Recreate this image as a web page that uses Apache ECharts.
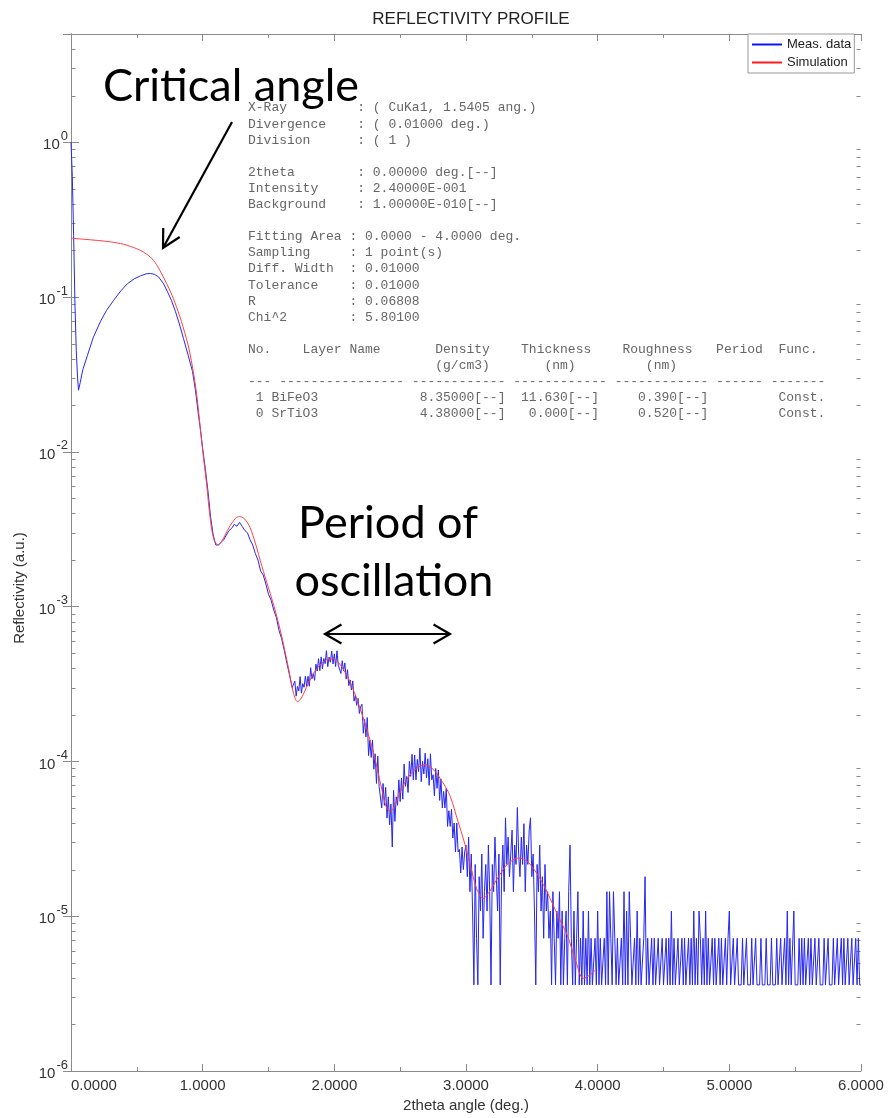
<!DOCTYPE html>
<html>
<head>
<meta charset="utf-8">
<script src="https://cdn.jsdelivr.net/npm/echarts@6/dist/echarts.min.js"></script>
<style>
  html, body { margin: 0; padding: 0; background: #fff; }
  #chart { width: 888px; height: 1118px; }
</style>
</head>
<body>
<div id="chart"></div>
<script>
// ---- Measured reflectivity: low-angle part (2theta in deg, intensity) ----
const measLowX = [0.00, 0.01, 0.02, 0.03, 0.04, 0.05, 0.057, 0.07, 0.09, 0.125, 0.17, 0.224, 0.27, 0.323, 0.38, 0.429, 0.48, 0.528, 0.57, 0.604, 0.635, 0.664, 0.70, 0.733, 0.763, 0.793, 0.823, 0.854, 0.89, 0.923, 0.945, 0.968, 0.985];
const measLowY = [1.0, 0.6, 0.25, 0.09, 0.045, 0.03, 0.025, 0.028, 0.034, 0.042, 0.055, 0.0696, 0.082, 0.095, 0.11, 0.122, 0.131, 0.137, 0.141, 0.142, 0.14, 0.135, 0.123, 0.108, 0.095, 0.0807, 0.067, 0.054, 0.042, 0.033, 0.025, 0.0173, 0.0135];

// ---- Measured: 1.00 .. 1.68 deg, step 0.02 ----
const measMidStart = 1.0;
const measMidStep = 0.02;
const measMidY = [
  0.0105, 0.0078, 0.0056, 0.0038, 0.0029, 0.0025, 0.0025, 0.0026, 0.0027, 0.0029,
  0.0031, 0.0032, 0.0034, 0.0033, 0.0035, 0.0033, 0.0031, 0.0030, 0.0027, 0.0025,
  0.0022, 0.0020, 0.0017, 0.0016, 0.0014, 0.0012, 0.0011, 0.00095, 0.00085, 0.00070,
  0.00062, 0.00052, 0.00043, 0.00036, 0.00030
];

// ---- Measured: 1.70 .. 6.00 deg, step 0.01 (counting-statistics limited) ----
const measHiStart = 1.70;
const measHiStep = 0.01;
const measHiY = [
  // 1.70 - 2.20
  3.30e-4, 2.64e-4, 3.05e-4, 2.85e-4, 3.53e-4, 2.76e-4, 3.18e-4, 3.01e-4, 3.55e-4, 3.05e-4,
  3.55e-4, 3.06e-4, 4.03e-4, 3.42e-4, 3.70e-4, 3.34e-4, 4.25e-4, 3.84e-4, 4.61e-4, 3.86e-4,
  4.73e-4, 3.96e-4, 4.62e-4, 4.28e-4, 5.19e-4, 4.09e-4, 4.72e-4, 4.37e-4, 5.16e-4, 4.26e-4,
  4.95e-4, 4.10e-4, 5.18e-4, 4.18e-4, 4.30e-4, 3.70e-4, 4.47e-4, 3.84e-4, 4.33e-4, 3.40e-4,
  3.91e-4, 3.09e-4, 3.36e-4, 2.90e-4, 3.31e-4, 2.45e-4, 2.67e-4, 2.30e-4, 2.55e-4, 2.04e-4,
  2.26e-4,
  // 2.21 - 2.99
  2.34e-4, 1.52e-4, 1.87e-4, 1.44e-4, 1.92e-4, 1.09e-4, 1.37e-4, 1.06e-4, 1.37e-4, 8.9e-5,
  1.12e-4, 7.2e-5, 1.08e-4, 6.9e-5, 7.1e-5, 5.0e-5, 7.2e-5, 5.2e-5, 6.8e-5, 4.3e-5,
  5.9e-5, 3.9e-5, 5.3e-5, 2.8e-5, 6.5e-5, 4.1e-5, 5.9e-5, 5.2e-5, 7.6e-5, 5.5e-5,
  7.8e-5, 5.7e-5, 9.6e-5, 6.9e-5, 8.0e-5, 6.3e-5, 1.0e-4, 8.0e-5, 1.11e-4, 7.6e-5,
  1.10e-4, 7.6e-5, 1.03e-4, 8.6e-5, 1.22e-4, 7.4e-5, 1.0e-4, 8.3e-5, 1.13e-4, 7.8e-5,
  1.04e-4, 7.0e-5, 1.12e-4, 7.6e-5, 8.2e-5, 6.0e-5, 9.0e-5, 6.7e-5, 8.8e-5, 5.6e-5,
  7.7e-5, 5.0e-5, 6.4e-5, 5.0e-5, 6.7e-5, 3.8e-5, 4.8e-5, 3.8e-5, 4.9e-5, 3.2e-5,
  4.0e-5, 2.6e-5, 4.0e-5, 2.6e-5, 2.7e-5, 1.9e-5, 2.8e-5, 2.0e-5, 2.6e-5,
  // 3.00 - 3.63
  2.88e-5, 1.8e-5, 3.24e-5, 1.44e-5, 2.52e-5, 1.08e-5, 3.6e-6, 2.16e-5, 7.2e-6, 3.6e-6,
  1.8e-5, 1.08e-5, 2.52e-5, 7.2e-6, 1.44e-5, 2.16e-5, 1.08e-5, 2.88e-5, 1.44e-5, 3.6e-6,
  2.16e-5, 1.44e-5, 3.24e-5, 1.8e-5, 1.08e-5, 2.52e-5, 3.6e-6, 1.8e-5, 2.88e-5, 1.44e-5,
  4.32e-5, 2.16e-5, 3.24e-5, 1.8e-5, 2.52e-5, 3.6e-5, 1.44e-5, 2.88e-5, 2.16e-5, 5.04e-5,
  2.52e-5, 1.8e-5, 3.24e-5, 2.16e-5, 3.96e-5, 1.44e-5, 2.88e-5, 2.16e-5, 3.6e-5, 4.32e-5,
  1.8e-5, 2.52e-5, 1.08e-5, 3.6e-6, 2.16e-5, 1.44e-5, 2.88e-5, 1.08e-5, 1.8e-5, 7.2e-6,
  2.16e-5, 1.08e-5, 1.44e-5, 7.2e-6,
  // 3.64 - 4.04
  1.08e-5, 3.6e-6, 1.44e-5, 7.2e-6, 3.6e-6, 1.08e-5, 7.2e-6, 1.44e-5, 3.6e-6, 1.08e-5,
  3.6e-6, 7.2e-6, 1.08e-5, 3.6e-6, 1.44e-5, 2.88e-5, 7.2e-6, 3.6e-6, 1.08e-5, 3.6e-6,
  7.2e-6, 1.44e-5, 3.6e-6, 7.2e-6, 3.6e-6, 1.08e-5, 3.6e-6, 7.2e-6, 3.6e-6, 1.08e-5,
  3.6e-6, 7.2e-6, 3.6e-6, 3.6e-6, 7.2e-6, 3.6e-6, 1.08e-5, 3.6e-6, 7.2e-6, 3.6e-6,
  3.6e-6,
  // 4.05 - 4.40
  7.2e-6, 3.6e-6, 1.44e-5, 3.6e-6, 1.44e-5, 7.2e-6, 3.6e-6, 1.44e-5, 7.2e-6, 3.6e-6,
  7.2e-6, 3.6e-6, 3.6e-6, 7.2e-6, 3.6e-6, 1.44e-5, 3.6e-6, 1.08e-5, 3.6e-6, 1.44e-5,
  7.2e-6, 3.6e-6, 3.6e-6, 7.2e-6, 3.6e-6, 1.08e-5, 3.6e-6, 7.2e-6, 3.6e-6, 3.6e-6,
  7.2e-6, 1.8e-5, 3.6e-6, 7.2e-6, 3.6e-6, 3.6e-6,
  // 4.41 - 6.00
  7.2e-6, 3.6e-6, 7.2e-6, 3.6e-6, 3.6e-6, 7.2e-6, 3.6e-6, 3.6e-6, 7.2e-6, 3.6e-6,
  3.6e-6, 7.2e-6, 3.6e-6, 7.2e-6, 3.6e-6, 1.08e-5, 3.6e-6, 7.2e-6, 3.6e-6, 3.6e-6,
  7.2e-6, 3.6e-6, 3.6e-6, 7.2e-6, 3.6e-6, 7.2e-6, 3.6e-6, 3.6e-6, 7.2e-6, 3.6e-6,
  7.2e-6, 3.6e-6, 1.08e-5, 3.6e-6, 7.2e-6, 3.6e-6, 1.08e-5, 7.2e-6, 3.6e-6, 7.2e-6,
  3.6e-6, 1.08e-5, 3.6e-6, 7.2e-6, 3.6e-6, 3.6e-6, 7.2e-6, 3.6e-6, 7.2e-6, 3.6e-6,
  3.6e-6, 7.2e-6, 3.6e-6, 7.2e-6, 3.6e-6, 3.6e-6, 7.2e-6, 3.6e-6, 7.2e-6, 1.08e-5,
  3.6e-6, 3.6e-6, 7.2e-6, 3.6e-6, 3.6e-6, 7.2e-6, 3.6e-6, 3.6e-6, 3.6e-6, 7.2e-6,
  3.6e-6, 3.6e-6, 7.2e-6, 3.6e-6, 3.6e-6, 3.6e-6, 7.2e-6, 3.6e-6, 3.6e-6, 7.2e-6,
  3.6e-6, 3.6e-6, 3.6e-6, 7.2e-6, 3.6e-6, 3.6e-6, 3.6e-6, 7.2e-6, 3.6e-6, 3.6e-6,
  3.6e-6, 7.2e-6, 3.6e-6, 3.6e-6, 3.6e-6, 7.2e-6, 3.6e-6, 3.6e-6, 7.2e-6, 3.6e-6,
  3.6e-6, 7.2e-6, 3.6e-6, 1.08e-5, 3.6e-6, 7.2e-6, 3.6e-6, 3.6e-6, 1.08e-5, 3.6e-6,
  3.6e-6, 3.6e-6, 7.2e-6, 3.6e-6, 7.2e-6, 3.6e-6, 7.2e-6, 3.6e-6, 3.6e-6, 7.2e-6,
  3.6e-6, 7.2e-6, 3.6e-6, 3.6e-6, 7.2e-6, 3.6e-6, 3.6e-6, 7.2e-6, 3.6e-6, 3.6e-6,
  3.6e-6, 7.2e-6, 3.6e-6, 3.6e-6, 7.2e-6, 3.6e-6, 3.6e-6, 3.6e-6, 7.2e-6, 3.6e-6,
  3.6e-6, 7.2e-6, 3.6e-6, 3.6e-6, 7.2e-6, 3.6e-6, 7.2e-6, 3.6e-6, 3.6e-6, 7.2e-6,
  3.6e-6, 3.6e-6, 7.2e-6, 3.6e-6, 3.6e-6, 7.2e-6, 3.6e-6, 7.2e-6, 3.6e-6, 3.6e-6
];

// ---- Simulated curve (BiFeO3 11.63 nm on SrTiO3), fitting area 0 .. 4 deg ----
const simX = [0.00, 0.10, 0.20, 0.30, 0.40, 0.50, 0.55, 0.60, 0.65, 0.70, 0.75, 0.80, 0.85, 0.90, 0.95, 1.00, 1.03, 1.06, 1.09, 1.12, 1.15, 1.20, 1.25, 1.28, 1.32, 1.36, 1.40, 1.45, 1.50, 1.55, 1.60, 1.65, 1.69, 1.72, 1.75, 1.80, 1.85, 1.90, 1.95, 1.99, 2.04, 2.10, 2.15, 2.20, 2.25, 2.30, 2.35, 2.40, 2.43, 2.47, 2.52, 2.58, 2.64, 2.69, 2.75, 2.82, 2.88, 2.94, 2.98, 3.03, 3.08, 3.13, 3.18, 3.25, 3.32, 3.40, 3.47, 3.55, 3.62, 3.70, 3.77, 3.83, 3.89, 3.94, 3.98];
const simY = [0.240, 0.236, 0.232, 0.227, 0.219, 0.205, 0.195, 0.182, 0.162, 0.135, 0.111, 0.087, 0.0646, 0.0447, 0.0251, 0.0102, 0.00617, 0.00355, 0.00263, 0.00251, 0.00269, 0.00324, 0.00372, 0.00382, 0.00367, 0.00324, 0.00257, 0.00182, 0.00132, 9.5e-4, 6.46e-4, 4.07e-4, 2.75e-4, 2.43e-4, 2.57e-4, 3.16e-4, 3.8e-4, 4.27e-4, 4.57e-4, 4.59e-4, 4.27e-4, 3.52e-4, 2.82e-4, 2.14e-4, 1.58e-4, 1.12e-4, 7.24e-5, 4.9e-5, 4.79e-5, 5.5e-5, 6.92e-5, 8.3e-5, 9.2e-5, 9.55e-5, 8.9e-5, 7.4e-5, 5.96e-5, 4.07e-5, 3.16e-5, 2.19e-5, 1.51e-5, 1.3e-5, 1.45e-5, 1.82e-5, 2.19e-5, 2.38e-5, 2.24e-5, 1.82e-5, 1.41e-5, 1.0e-5, 7.5e-6, 5.25e-6, 3.96e-6, 4.17e-6, 4.47e-6];

// ---- Axis settings ----
const xTickDigits = 4;
const yMin = 1e-6;
const yMax = 5;
const legendNames = ['Meas. data', 'Simulation'];

// ---- Fit report printed inside the plot ----
function field(label, colonCol, value) {
  return label.padEnd(colonCol) + ': ' + value;
}
function cols(parts) {
  let s = '';
  parts.forEach(([c, t]) => { s = s.padEnd(c) + t; });
  return s;
}
const reportLines = [
  field('X-Ray', 14, '( CuKa1, 1.5405 ang.)'),
  field('Divergence', 14, '( 0.01000 deg.)'),
  field('Division', 14, '( 1 )'),
  '',
  field('2theta', 14, '0.00000 deg.[--]'),
  field('Intensity', 14, '2.40000E-001'),
  field('Background', 14, '1.00000E-010[--]'),
  '',
  field('Fitting Area', 13, '0.0000 - 4.0000 deg.'),
  field('Sampling', 13, '1 point(s)'),
  field('Diff. Width', 13, '0.01000'),
  field('Tolerance', 13, '0.01000'),
  field('R', 13, '0.06808'),
  field('Chi^2', 13, '5.80100'),
  '',
  cols([[0, 'No.'], [7, 'Layer Name'], [24, 'Density'], [35, 'Thickness'], [48, 'Roughness'], [60, 'Period'], [68, 'Func.']]),
  cols([[24, '(g/cm3)'], [38, '(nm)'], [51, '(nm)']]),
  '--- ---------------- ------------ ------------ ------------ ------ -------',
  cols([[1, '1'], [3, 'BiFeO3'], [22, '8.35000[--]'], [35, '11.630[--]'], [50, '0.390[--]'], [68, 'Const.']]),
  cols([[1, '0'], [3, 'SrTiO3'], [22, '4.38000[--]'], [36, '0.000[--]'], [50, '0.520[--]'], [68, 'Const.']])
];

// ---- Build series data ----
const round3 = v => Math.round(v * 1000) / 1000;
const measData = [];
measLowX.forEach((x, i) => measData.push([x, measLowY[i]]));
measMidY.forEach((y, i) => measData.push([round3(measMidStart + i * measMidStep), y]));
measHiY.forEach((y, i) => measData.push([round3(measHiStart + i * measHiStep), y]));
const simData = simX.map((x, i) => [x, simY[i]]);

// minor log ticks (2..9 x 10^k) inside the frame
const minorTickValues = [];
for (let k = -6; k <= 0; k++) {
  for (let m = 2; m <= 9; m++) {
    const v = m * Math.pow(10, k);
    if (v < yMax) minorTickValues.push([0, v]);
  }
}

const frameColor = '#8a8a8a';
const labelFont = 'Liberation Sans';

const chart = echarts.init(document.getElementById('chart'), null, { renderer: 'canvas' });

function arrowHead(tip, from, len, angDeg) {
  const dx = from[0] - tip[0], dy = from[1] - tip[1];
  const d = Math.hypot(dx, dy);
  const ux = dx / d, uy = dy / d;
  const a = angDeg * Math.PI / 180;
  const r = (s) => [tip[0] + len * (ux * Math.cos(s * a) - uy * Math.sin(s * a)),
                    tip[1] + len * (ux * Math.sin(s * a) + uy * Math.cos(s * a))];
  return [r(1), tip, r(-1)];
}
const arrowStyle = { stroke: '#000', lineWidth: 2.2, fill: null };
const critFrom = [232, 122], critTip = [163, 248];
const perL = [325, 634], perR = [450, 634];

const option = {
  backgroundColor: '#fff',
  animation: false,
  title: {
    text: 'REFLECTIVITY PROFILE',
    left: 466, top: 6, textAlign: 'center',
    textStyle: { fontFamily: labelFont, fontSize: 17, fontWeight: 'normal', color: '#222' }
  },
  legend: {
    data: legendNames,
    orient: 'vertical',
    left: 748, top: 34,
    padding: [4, 3, 4, 4],
    itemGap: 5,
    itemWidth: 30, itemHeight: 2,
    icon: 'rect',
    borderColor: '#999', borderWidth: 1,
    backgroundColor: '#fff',
    textStyle: { fontFamily: labelFont, fontSize: 13, color: '#222' }
  },
  grid: { left: 71, right: 27, top: 34, bottom: 42, containLabel: false },
  xAxis: [{
    type: 'value', min: 0, max: 6, interval: 1, position: 'bottom',
    axisLine: { lineStyle: { color: frameColor, width: 1 } },
    axisTick: { inside: true, length: 7, lineStyle: { color: frameColor } },
    minorTick: { show: true, splitNumber: 2, length: 4, lineStyle: { color: frameColor } },
    splitLine: { show: false },
    axisLabel: {
      formatter: v => v.toFixed(xTickDigits), alignMinLabel: 'left',
      fontFamily: labelFont, fontSize: 15, color: '#333', margin: 7
    },
    name: '2theta angle (deg.)', nameLocation: 'middle', nameGap: 27,
    nameTextStyle: { fontFamily: labelFont, fontSize: 15, color: '#333' }
  }, {
    type: 'value', min: 0, max: 6, interval: 1, position: 'top',
    axisLine: { lineStyle: { color: frameColor, width: 1 } },
    axisTick: { inside: true, length: 7, lineStyle: { color: frameColor } },
    minorTick: { show: true, splitNumber: 2, length: 4, lineStyle: { color: frameColor } },
    splitLine: { show: false },
    axisLabel: { show: false }
  }],
  yAxis: [{
    type: 'log', logBase: 10, min: yMin, max: yMax, position: 'left',
    axisLine: { show: true, lineStyle: { color: frameColor, width: 1 } },
    axisTick: { show: true, inside: true, length: 8, lineStyle: { color: frameColor } },
    splitLine: { show: false },
    axisLabel: {
      showMaxLabel: false, margin: 3,
      formatter: v => '{b|10}{e|' + Math.round(Math.log10(v)) + '}',
      rich: {
        b: { fontFamily: labelFont, fontSize: 15, color: '#333', lineHeight: 15, padding: [6, 1, 0, 0] },
        e: { fontFamily: labelFont, fontSize: 13, color: '#333', lineHeight: 13, padding: [0, 0, 12, 0] }
      }
    }
  }, {
    type: 'log', logBase: 10, min: yMin, max: yMax, position: 'right',
    axisLine: { show: true, lineStyle: { color: frameColor, width: 1 } },
    axisTick: { show: true, inside: true, length: 8, lineStyle: { color: frameColor } },
    splitLine: { show: false },
    axisLabel: { show: false }
  }],
  series: [{
    name: 'Meas. data', type: 'line', data: measData,
    xAxisIndex: 0, yAxisIndex: 0,
    showSymbol: false, symbol: 'none', sampling: null,
    lineStyle: { color: '#2626f0', width: 1 },
    itemStyle: { color: '#1010ff' },
    z: 2
  }, {
    name: 'Simulation', type: 'line', data: simData,
    xAxisIndex: 0, yAxisIndex: 0,
    showSymbol: false, symbol: 'none', smooth: 0.3,
    lineStyle: { color: '#ff4040', width: 1 },
    itemStyle: { color: '#ff1a1a' },
    z: 3
  }, {
    name: 'minor-ticks', type: 'custom', data: minorTickValues,
    xAxisIndex: 0, yAxisIndex: 0, silent: true, clip: false,
    renderItem: (params, api) => {
      const p = api.coord([0, api.value(1)]);
      const cs = params.coordSys;
      const y = Math.round(p[1]) + 0.5;
      const xl = Math.round(cs.x) + 0.5, xr = Math.round(cs.x + cs.width) - 0.5;
      const st = { stroke: frameColor, lineWidth: 1 };
      return {
        type: 'group', children: [
          { type: 'line', shape: { x1: xl, y1: y, x2: xl + 4, y2: y }, style: st },
          { type: 'line', shape: { x1: xr, y1: y, x2: xr - 4, y2: y }, style: st }
        ]
      };
    },
    z: 1
  }],
  graphic: [
    {
      type: 'text', x: 248, y: 100, silent: true,
      style: {
        text: reportLines.join('\n'),
        font: '13px "Liberation Mono"', fill: '#666', lineHeight: 16.1
      }
    },
    {
      type: 'text', x: 20, y: 588, rotation: Math.PI / 2, silent: true,
      style: { text: 'Reflectivity (a.u.)', font: '15px "Liberation Sans"', fill: '#333', textAlign: 'center', textVerticalAlign: 'middle' }
    },
    {
      type: 'text', x: 103, y: 86, silent: true,
      style: { text: 'Critical angle', font: '45px Lato', fill: '#000', textAlign: 'left', textVerticalAlign: 'middle' }
    },
    {
      type: 'text', x: 388, y: 523, silent: true,
      style: { text: 'Period of', font: '45px Lato', fill: '#000', textAlign: 'center', textVerticalAlign: 'middle' }
    },
    {
      type: 'text', x: 394, y: 581, silent: true,
      style: { text: 'oscillation', font: '45px Lato', fill: '#000', textAlign: 'center', textVerticalAlign: 'middle' }
    },
    { type: 'line', silent: true, shape: { x1: critFrom[0], y1: critFrom[1], x2: critTip[0], y2: critTip[1] }, style: arrowStyle },
    { type: 'polyline', silent: true, shape: { points: arrowHead(critTip, critFrom, 20, 28) }, style: arrowStyle },
    { type: 'line', silent: true, shape: { x1: perL[0], y1: perL[1], x2: perR[0], y2: perR[1] }, style: arrowStyle },
    { type: 'polyline', silent: true, shape: { points: arrowHead(perL, perR, 19, 30) }, style: arrowStyle },
    { type: 'polyline', silent: true, shape: { points: arrowHead(perR, perL, 19, 30) }, style: arrowStyle }
  ]
};

chart.setOption(option);
</script>
</body>
</html>
